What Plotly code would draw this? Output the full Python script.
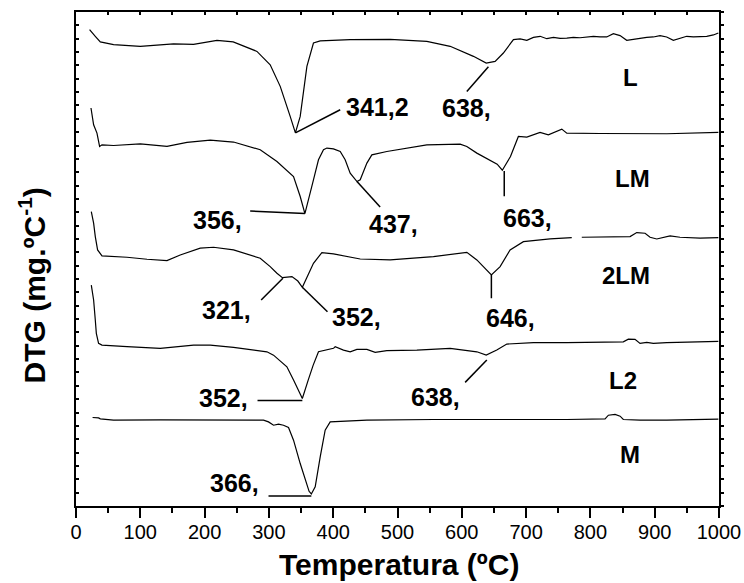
import plotly.graph_objects as go

# Temperature (ºC) and offset DTG signal for each sample
L_T = [21.1, 24.9, 30.0, 37.8, 58.4, 100, 151.7, 182.8, 219.2, 244.5, 281.4, 302, 317.6, 333.1,
       341.2, 348.7, 359.1, 369.3, 379.8, 426.4, 488.6, 545.6, 581.9, 618.1, 638, 651.8, 664.7,
       680.3, 690.7, 701.1, 711.4, 721.8, 732.2, 742.5, 752.9, 763.3, 773.5, 783.9, 794.3, 804.6,
       815, 825.4, 835.7, 846.1, 856.5, 866.8, 877.2, 887.6, 897.9, 908.3, 918.7, 929, 939.4,
       949.8, 960.2, 970.5, 980.9, 991.3, 999]
L_Y = [35.68, 35.43, 35.18, 34.76, 34.55, 34.43, 34.61, 34.58, 34.88, 34.76, 34.05, 33.05, 31.43, 29.18,
       27.95, 29.18, 32.93, 34.68, 34.83, 34.93, 34.95, 34.8, 34.43, 33.68, 33.18, 33.3, 33.93,
       34.93, 34.98, 34.88, 35.1, 35.18, 35.0, 35.1, 35.03, 35.05, 35.1, 35.07, 35.13, 35.18,
       35.13, 35.13, 35.38, 35.23, 34.88, 34.98, 35.03, 35.1, 35.13, 35.23, 35.13, 34.88, 35.05,
       35.18, 35.13, 35.15, 35.18, 35.28, 35.43]

LM_T = [23.3, 24.9, 27.4, 32.6, 36.7, 40.4, 58.4, 100, 141.5, 172.6, 208.8, 245, 286.5, 312.5,
        338.3, 348.7, 356, 369.3, 377.1, 384.9, 390.2, 400.4, 410.9, 418.6, 426.4, 437, 442,
        452.4, 460.1, 483.4, 519.7, 545.6, 597.4, 607.8, 623.4, 638.9, 655, 663, 675.7, 688.0,
        701.1, 721.7, 734.6, 755.5, 763.3, 815, 866.8, 918.7, 999]
LM_Y = [29.81, 29.18, 28.55, 27.93, 26.93, 27.05, 27.0, 27.13, 26.93, 27.23, 27.41, 27.26, 26.68, 25.8,
        24.68, 23.18, 21.9, 24.43, 25.93, 26.68, 26.81, 26.75, 26.55, 25.93, 24.93, 24.3, 24.43,
        25.68, 26.3, 26.55, 26.81, 27.05, 27.1, 26.93, 26.43, 26.05, 25.6, 25.15, 26.18, 27.68,
        27.63, 27.98, 27.8, 28.23, 27.93, 27.9, 27.88, 27.88, 27.98]

LM2_T = [23.8, 27.4, 30.0, 33.6, 40.4, 79.3, 110.4, 141.5, 162.1, 193.2, 213.9, 245, 286.5, 302,
         312.5, 321, 335.8, 345, 352, 369.3, 382.4, 400.4, 442, 488.6, 555.9, 607.8, 623.4, 638.9,
         646, 659.6, 675.1, 695.8, 737.3, 771, None, 786.6, 861.7, 872.1, 885, 892.8, 903.2, 923.9,
         939.4, 970.5, 999]
LM2_Y = [22.05, 21.18, 20.18, 19.18, 18.73, 18.63, 18.48, 18.38, 18.8, 19.31, 19.38, 19.18, 18.56, 17.93,
         17.43, 17.1, 17.18, 16.85, 16.38, 18.18, 18.98, 18.88, 18.5, 18.43, 18.68, 19.0, 18.43, 17.68,
         17.3, 17.93, 19.18, 19.8, 20.0, 20.1, None, 20.13, 20.18, 20.48, 20.43, 20.13, 20.0, 20.23,
         20.13, 20.06, 20.1]

L2_T = [23.8, 27.4, 30.0, 31.6, 35.1, 40.4, 79.3, 131, 182.8, 208.8, 245, 296.9, 307.2, 328,
        338.3, 352, 361.1, 368.9, 377.1, 400.4, 403.1, 416, 426.4, 436.8, 452.4, 465.3, 483.4,
        530.1, 581.9, 623.4, 638, 654.4, 670, 685.5, 711.4, 763.3, 851.2, 859, 869.4, 877.2,
        887.6, 897.9, 918.7, 999]
L2_Y = [16.55, 15.43, 13.93, 12.93, 12.18, 12.05, 11.93, 11.81, 12.05, 12.05, 11.88, 11.55, 11.3, 10.43,
        9.43, 8.05, 9.43, 10.55, 11.55, 11.81, 11.93, 11.68, 11.55, 11.73, 11.73, 11.51, 11.63,
        11.68, 11.81, 11.55, 11.3, 11.68, 12.13, 12.18, 12.23, 12.23, 12.3, 12.5, 12.48, 12.18,
        12.26, 12.18, 12.23, 12.33]

M_T = [25.8, 35.1, 37.8, 58.4, 131, 234.7, 291.6, 299.4, 307.2, 315, 322.7, 330.5, 338.3, 348.7,
       359.1, 362.5, 366, 372, 379.8, 387.5, 395.3, 452.4, 555.9, 633.6, 685.5, 763.3, 822.8,
       828, 838.4, 846.2, 851.2, 877.2, 918.7, 970.5, 999]
M_Y = [6.63, 6.6, 6.53, 6.43, 6.45, 6.45, 6.43, 6.3, 6.05, 6.13, 6.05, 5.88, 4.93, 3.18,
       1.68, 1.1, 0.9, 1.43, 3.68, 5.68, 6.3, 6.43, 6.48, 6.48, 6.43, 6.48, 6.53,
       6.8, 6.86, 6.73, 6.48, 6.43, 6.43, 6.48, 6.5]

# Sample names and where they are written
SAMPLE_NAMES = ["L", "LM", "2LM", "L2", "M"]
SAMPLE_POS = [(861.6, 32.1), (865.5, 24.5), (855.4, 17.23), (850.8, 9.43), (860.9, 3.88)]

# Peak temperature labels: text, text position, leader line (x0, y0, x1, y1)
PEAK_TEXT = ["341,2", "638,", "356,", "437,", "663,", "321,", "352,", "646,", "352,", "638,", "366,"]
PEAK_POS = [(469.1, 29.87), (607.8, 29.83), (219.6, 21.43), (493.2, 21.13), (701.6, 21.58),
            (233.6, 14.68), (436.8, 14.18), (675.1, 14.08), (229.4, 8.08), (558.5, 8.15),
            (247.2, 1.70)]
PEAK_LEADER = [(341.2, 27.95, 410.9, 29.68), (641.4, 32.9, 607.8, 31.05),
               (270.9, 22.1, 356, 21.9), (437, 24.3, 473.0, 22.4), (666, 25.1, 666, 23.2),
               (321.8, 17.06, 288, 15.43), (352, 16.38, 391.1, 14.55), (646, 17.3, 646, 15.56),
               (282.3, 7.9, 352, 7.9), (638.9, 10.93, 605.2, 9.26), (299.4, 0.75, 366, 0.75)]

X_TICKS = [0, 100, 200, 300, 400, 500, 600, 700, 800, 900, 1000]

FONT = "Arial, Liberation Sans, sans-serif"
line_style = dict(color="black", width=1.2)

fig = go.Figure()
for t, y, name in [(L_T, L_Y, "L"), (LM_T, LM_Y, "LM"), (LM2_T, LM2_Y, "2LM"), (L2_T, L2_Y, "L2")]:
    fig.add_trace(go.Scatter(x=t, y=y, mode="lines", line=line_style, name=name,
                             showlegend=False, hoverinfo="skip"))
# M is drawn on the mirrored axes so that the top/right frame carries ticks too
fig.add_trace(go.Scatter(x=M_T, y=M_Y, mode="lines", line=line_style, name="M",
                         showlegend=False, hoverinfo="skip", xaxis="x2", yaxis="y2"))

for (x0, y0, x1, y1) in PEAK_LEADER:
    fig.add_shape(type="line", x0=x0, y0=y0, x1=x1, y1=y1, xref="x", yref="y",
                  line=dict(color="black", width=1.5))

annotations = []
for txt, (x, y) in zip(PEAK_TEXT, PEAK_POS):
    annotations.append(dict(x=x, y=y, xref="x", yref="y", text=f"<b>{txt}</b>", showarrow=False,
                            font=dict(family=FONT, size=25, color="black"),
                            xanchor="center", yanchor="middle"))
for txt, (x, y) in zip(SAMPLE_NAMES, SAMPLE_POS):
    annotations.append(dict(x=x, y=y, xref="x", yref="y", text=f"<b>{txt}</b>", showarrow=False,
                            font=dict(family=FONT, size=24, color="black"),
                            xanchor="center", yanchor="middle"))
annotations.append(dict(x=0.502, y=-0.119, xref="paper", yref="paper",
                        text="<b>Temperatura (ºC)</b>", showarrow=False,
                        font=dict(family=FONT, size=30, color="black"),
                        xanchor="center", yanchor="middle", borderpad=0))
annotations.append(dict(x=-0.068, y=0.447, xref="paper", yref="paper",
                        text="<b>DTG (mg.ºC<sup>-1</sup>)</b>", showarrow=False, textangle=-90,
                        font=dict(family=FONT, size=30, color="black"),
                        xanchor="center", yanchor="middle"))

axis_common = dict(showgrid=False, zeroline=False, showline=True, linecolor="black",
                   linewidth=1.5, tickcolor="black", tickwidth=1.5, automargin=False)

fig.update_layout(
    width=744, height=583,
    margin=dict(l=76, r=25, t=12, b=77, autoexpand=False),
    paper_bgcolor="white", plot_bgcolor="white",
    font=dict(family=FONT, color="black"),
    showlegend=False,
    annotations=annotations,
    xaxis=dict(range=[0, 1000], tickvals=X_TICKS, ticktext=[str(v) for v in X_TICKS],
               ticks="outside", ticklen=10, ticklabelstandoff=-3,
               tickfont=dict(family=FONT, size=20, color="black"),
               minor=dict(dtick=50, tick0=0, ticks="outside", ticklen=5,
                          tickcolor="black", tickwidth=1.5),
               **axis_common),
    xaxis2=dict(range=[0, 1000], overlaying="x", side="top", anchor="y2",
                tick0=0, dtick=50, ticks="inside", ticklen=3, showticklabels=False,
                **axis_common),
    yaxis=dict(range=[0, 37], tick0=0, dtick=1, ticks="inside", ticklen=3,
               showticklabels=False, **axis_common),
    yaxis2=dict(range=[0, 37], overlaying="y", side="right", anchor="x2",
                tick0=0, dtick=1, ticks="outside", ticklen=3, showticklabels=False,
                **axis_common),
)

fig.write_html("out.html")
